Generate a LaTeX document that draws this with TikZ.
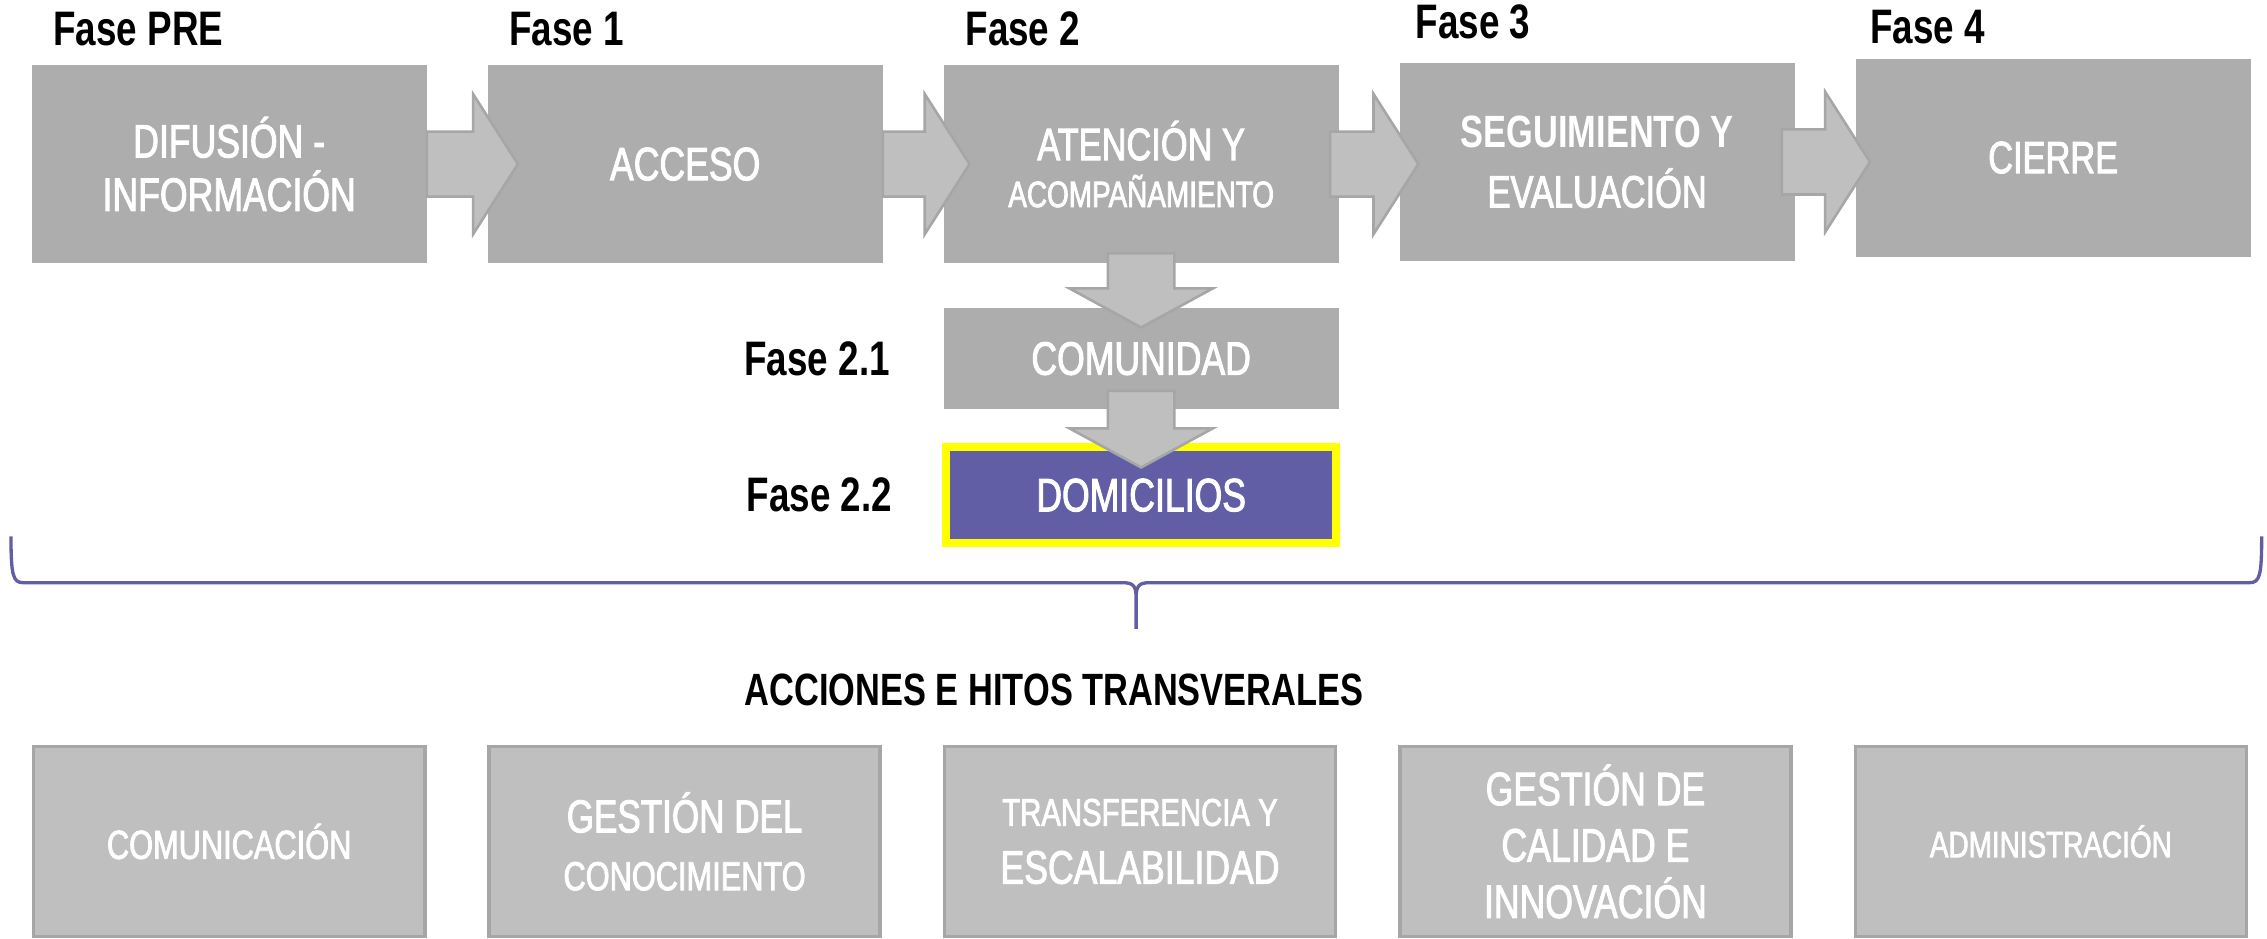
\documentclass[tikz,border=0pt]{standalone}
\usepackage{fontspec}
\setmainfont[FakeStretch=0.76,UprightFeatures={FakeBold=2}]{Liberation Sans}
\usetikzlibrary{positioning,calc}

\definecolor{grisfase}{RGB}{173,173,173}
\definecolor{grisflecha}{RGB}{191,191,191}
\definecolor{bordeflecha}{RGB}{166,166,166}
\definecolor{morado}{RGB}{98,94,165}
\definecolor{amarillo}{RGB}{255,255,0}

\begin{document}
\begin{tikzpicture}[x=1pt,y=-1pt,
                    fase/.style={fill=grisfase,text=white,align=center,inner sep=0pt,
                      minimum width=273pt,minimum height=137pt,
                      font=\fontsize{32.4}{37}\selectfont},
                    etiqueta/.style={text=black,inner sep=0pt,
                      font=\bfseries\fontsize{33.5}{33.5}\selectfont},
                    transversal/.style={fill=grisflecha,draw=bordeflecha,line width=2.5pt,
                      text=white,align=center,inner sep=0pt,
                      minimum width=270.5pt,minimum height=131.5pt,
                      font=\fontsize{32.4}{40}\selectfont},
                    flecha derecha/.style={fill=grisflecha,draw=bordeflecha,line width=1.8pt,
                      to path={let \p1=(\tikztostart),\p2=(\tikztotarget) in
                        (\x1,\y1+22.5pt) -- (\x2-31pt,\y1+22.5pt) -- (\x2-31pt,\y1+48.5pt)
                        -- (\x2,\y1) -- (\x2-31pt,\y1-48.5pt) -- (\x2-31pt,\y1-22.5pt)
                        -- (\x1,\y1-22.5pt) -- cycle}},
                    flecha abajo/.style={fill=grisflecha,draw=bordeflecha,line width=1.8pt,
                      to path={let \p1=(\tikztostart),\p2=(\tikztotarget) in
                        (\x1-23pt,\y1) -- (\x1-23pt,\y2+27pt) -- (\x1-49.5pt,\y2+27pt)
                        -- (\x1,\y2) -- (\x1+49.5pt,\y2+27pt) -- (\x1+23pt,\y2+27pt)
                        -- (\x1+23pt,\y1) -- cycle}}]
  \useasboundingbox (0,0) rectangle (1568,649);

  \node[fase]         (difusion)    at (158.5,113.5)               {DIFUSIÓN -\\INFORMACIÓN};
  \node[fase]         (acceso)      [right=42pt of difusion]       {ACCESO};
  \node[fase,font=\fontsize{31.3}{32.5}\selectfont]
                      (atencion)    [right=42pt of acceso]
                      {ATENCIÓN Y\\{\fontsize{25.4}{32.5}\selectfont ACOMPAÑAMIENTO}};
  \node[fase,font=\fontsize{31.3}{41.5}\selectfont]
                      (seguimiento) [right=42pt of atencion,yshift=1.5pt]
                      {{\bfseries SEGUIMIENTO Y}\\EVALUACIÓN};
  \node[fase,font=\fontsize{31.3}{37}\selectfont]
                      (cierre)      [right=42pt of seguimiento,yshift=3pt] {CIERRE};

  \node[fase,minimum height=69.6pt] (comunidad) [below=30.8pt of atencion] {COMUNIDAD};
  \node[fase,fill=morado,draw=amarillo,line width=5.5pt,minimum width=270pt,
        minimum height=66.5pt] (domicilios) [below=23.5pt of comunidad] {DOMICILIOS};

  \node[etiqueta] (fpre) [above=13pt of difusion.north west,anchor=base west,xshift=15pt] {Fase PRE};
  \node[etiqueta] (f1) [above=13pt of acceso.north west,anchor=base west,xshift=15pt] {Fase 1};
  \node[etiqueta] (f2) [above=13pt of atencion.north west,anchor=base west,xshift=15pt] {Fase 2};
  \node[etiqueta] (f3) [above=16.5pt of seguimiento.north west,anchor=base west,xshift=11pt] {Fase 3};
  \node[etiqueta] (f4) [above=10.4pt of cierre.north west,anchor=base west,xshift=10pt] {Fase 4};
  \node[etiqueta] (f21) [left=37pt of comunidad] {Fase 2.1};
  \node[etiqueta] (f22) [left=34.3pt of domicilios] {Fase 2.2};

  \path (difusion.east) edge[flecha derecha] ([xshift=21pt]acceso.west)
        (acceso.east) edge[flecha derecha] ([xshift=18pt]atencion.west)
        ([xshift=-6pt]atencion.east) edge[flecha derecha] ([xshift=13pt]seguimiento.west)
        ([xshift=-9pt]seguimiento.east) edge[flecha derecha] ([xshift=10pt]cierre.west)
        ([yshift=7pt]atencion.south) edge[flecha abajo] ([yshift=-13.5pt]comunidad.north)
        ([yshift=12.7pt]comunidad.south) edge[flecha abajo] ([yshift=-16.8pt]domicilios.north);

  % llave
  \draw[morado,line width=2.3pt]
        (7.6,371) .. controls (7.6,398) and (9,403) .. (16,403) -- (776,403)
        .. controls (784,403) and (785.8,405) .. (785.8,414) -- (785.8,435)
        (785.8,435) -- (785.8,414) .. controls (785.8,405) and (787.6,403) .. (795.6,403)
        -- (1556,403) .. controls (1563,403) and (1564.3,398) .. (1564.3,371);

  \node[etiqueta,font=\bfseries\fontsize{31.3}{31.3}\selectfont,anchor=base west]
        (acciones) at (515,488) {ACCIONES E HITOS TRANSVERALES};

  \node[transversal,font=\fontsize{28}{40}\selectfont] (comunicacion) at (158.5,582) {COMUNICACIÓN};
  \node[transversal,font=\fontsize{28}{40}\selectfont] (conocimiento) [right=42pt of comunicacion]
        {{\fontsize{31.9}{40}\selectfont GESTIÓN DEL}\\CONOCIMIENTO};
  \node[transversal] (transferencia) [right=42pt of conocimiento]
        {{\fontsize{26.7}{40}\selectfont TRANSFERENCIA Y}\\ESCALABILIDAD};
  \node[transversal,font=\fontsize{32.4}{39}\selectfont] (calidad) [right=42pt of transferencia]
        {GESTIÓN DE\\CALIDAD E\\INNOVACIÓN};
  \node[transversal,font=\fontsize{25.4}{40}\selectfont] (administracion) [right=42pt of calidad]
        {ADMINISTRACIÓN};
\end{tikzpicture}
\end{document}
